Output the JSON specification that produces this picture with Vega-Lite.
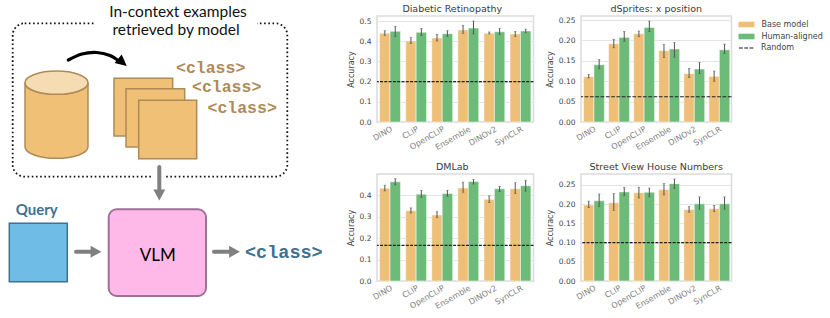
{
"$schema":"https://vega.github.io/schema/vega-lite/v6.json",
"padding":{"left":0,"top":2,"right":0,"bottom":0},
"background":"white",
"bounds":"flush",
"align":"each",
"columns":3,
"spacing":{"row":52,"column":47},
"datasets":{
"bars":[
{"panel":"dr","model":"DINO","kind":"Base model","acc":0.44,"lo":0.429,"hi":0.452},
{"panel":"dr","model":"DINO","kind":"Human-aligned","acc":0.449,"lo":0.423,"hi":0.474},
{"panel":"dr","model":"CLIP","kind":"Base model","acc":0.401,"lo":0.388,"hi":0.418},
{"panel":"dr","model":"CLIP","kind":"Human-aligned","acc":0.444,"lo":0.428,"hi":0.464},
{"panel":"dr","model":"OpenCLIP","kind":"Base model","acc":0.416,"lo":0.401,"hi":0.434},
{"panel":"dr","model":"OpenCLIP","kind":"Human-aligned","acc":0.4375,"lo":0.424,"hi":0.452},
{"panel":"dr","model":"Ensemble","kind":"Base model","acc":0.456,"lo":0.439,"hi":0.479},
{"panel":"dr","model":"Ensemble","kind":"Human-aligned","acc":0.465,"lo":0.436,"hi":0.5},
{"panel":"dr","model":"DINOv2","kind":"Base model","acc":0.439,"lo":0.436,"hi":0.446},
{"panel":"dr","model":"DINOv2","kind":"Human-aligned","acc":0.447,"lo":0.433,"hi":0.464},
{"panel":"dr","model":"SynCLR","kind":"Base model","acc":0.436,"lo":0.423,"hi":0.449},
{"panel":"dr","model":"SynCLR","kind":"Human-aligned","acc":0.451,"lo":0.442,"hi":0.46},
{"panel":"ds","model":"DINO","kind":"Base model","acc":0.111,"lo":0.108,"hi":0.117},
{"panel":"ds","model":"DINO","kind":"Human-aligned","acc":0.1405,"lo":0.13,"hi":0.153},
{"panel":"ds","model":"CLIP","kind":"Base model","acc":0.192,"lo":0.182,"hi":0.203},
{"panel":"ds","model":"CLIP","kind":"Human-aligned","acc":0.2075,"lo":0.198,"hi":0.222},
{"panel":"ds","model":"OpenCLIP","kind":"Base model","acc":0.2165,"lo":0.209,"hi":0.223},
{"panel":"ds","model":"OpenCLIP","kind":"Human-aligned","acc":0.232,"lo":0.222,"hi":0.2475},
{"panel":"ds","model":"Ensemble","kind":"Base model","acc":0.175,"lo":0.158,"hi":0.19},
{"panel":"ds","model":"Ensemble","kind":"Human-aligned","acc":0.179,"lo":0.159,"hi":0.195},
{"panel":"ds","model":"DINOv2","kind":"Base model","acc":0.1185,"lo":0.1087,"hi":0.1315},
{"panel":"ds","model":"DINOv2","kind":"Human-aligned","acc":0.13,"lo":0.119,"hi":0.146},
{"panel":"ds","model":"SynCLR","kind":"Base model","acc":0.112,"lo":0.1,"hi":0.125},
{"panel":"ds","model":"SynCLR","kind":"Human-aligned","acc":0.177,"lo":0.168,"hi":0.191},
{"panel":"dm","model":"DINO","kind":"Base model","acc":0.433,"lo":0.42,"hi":0.447},
{"panel":"dm","model":"DINO","kind":"Human-aligned","acc":0.4625,"lo":0.448,"hi":0.477},
{"panel":"dm","model":"CLIP","kind":"Base model","acc":0.328,"lo":0.317,"hi":0.341},
{"panel":"dm","model":"CLIP","kind":"Human-aligned","acc":0.405,"lo":0.389,"hi":0.423},
{"panel":"dm","model":"OpenCLIP","kind":"Base model","acc":0.308,"lo":0.295,"hi":0.323},
{"panel":"dm","model":"OpenCLIP","kind":"Human-aligned","acc":0.408,"lo":0.395,"hi":0.423},
{"panel":"dm","model":"Ensemble","kind":"Base model","acc":0.434,"lo":0.414,"hi":0.461},
{"panel":"dm","model":"Ensemble","kind":"Human-aligned","acc":0.464,"lo":0.452,"hi":0.473},
{"panel":"dm","model":"DINOv2","kind":"Base model","acc":0.381,"lo":0.366,"hi":0.397},
{"panel":"dm","model":"DINOv2","kind":"Human-aligned","acc":0.43,"lo":0.417,"hi":0.441},
{"panel":"dm","model":"SynCLR","kind":"Base model","acc":0.43,"lo":0.408,"hi":0.458},
{"panel":"dm","model":"SynCLR","kind":"Human-aligned","acc":0.444,"lo":0.419,"hi":0.47},
{"panel":"sv","model":"DINO","kind":"Base model","acc":0.198,"lo":0.191,"hi":0.208},
{"panel":"sv","model":"DINO","kind":"Human-aligned","acc":0.209,"lo":0.194,"hi":0.2266},
{"panel":"sv","model":"CLIP","kind":"Base model","acc":0.204,"lo":0.184,"hi":0.2274},
{"panel":"sv","model":"CLIP","kind":"Human-aligned","acc":0.232,"lo":0.222,"hi":0.244},
{"panel":"sv","model":"OpenCLIP","kind":"Base model","acc":0.23,"lo":0.216,"hi":0.244},
{"panel":"sv","model":"OpenCLIP","kind":"Human-aligned","acc":0.231,"lo":0.219,"hi":0.242},
{"panel":"sv","model":"Ensemble","kind":"Base model","acc":0.238,"lo":0.224,"hi":0.2535},
{"panel":"sv","model":"Ensemble","kind":"Human-aligned","acc":0.2535,"lo":0.241,"hi":0.2656},
{"panel":"sv","model":"DINOv2","kind":"Base model","acc":0.186,"lo":0.179,"hi":0.194},
{"panel":"sv","model":"DINOv2","kind":"Human-aligned","acc":0.201,"lo":0.187,"hi":0.219},
{"panel":"sv","model":"SynCLR","kind":"Base model","acc":0.188,"lo":0.181,"hi":0.197},
{"panel":"sv","model":"SynCLR","kind":"Human-aligned","acc":0.201,"lo":0.187,"hi":0.219}
],
"chance":[
{"panel":"dr","acc":0.2,"label":"Random"},
{"panel":"ds","acc":0.062,"label":"Random"},
{"panel":"dm","acc":0.166,"label":"Random"},
{"panel":"sv","acc":0.1,"label":"Random"}
]
},
"config":{
"font":"DejaVu Sans",
"view":{"stroke":"#dcdcdc","strokeWidth":1.5},
"title":{"fontSize":9.5,"fontWeight":"normal","color":"#3a3a3a","offset":3},
"axisX":{"domain":false,"ticks":false,"grid":false,"labelAngle":-30,"labelAlign":"right","labelBaseline":"top","labelFontSize":8,"labelColor":"#808080","labelPadding":3,"title":null,"labelOverlap":false},
"axisY":{"domain":false,"ticks":false,"grid":true,"gridColor":"#e4e4e4","gridWidth":1.2,"labelFontSize":7.5,"labelColor":"#444444","labelPadding":6,"labelOverlap":false,"titleFontSize":8,"titleFontWeight":"normal","titleColor":"#444444","titlePadding":4},
"legend":{"labelFontSize":8,"labelColor":"#444444","title":null}
},
"concat":[
{
"width":330,"height":106,"view":{"stroke":null},
"encoding":{
"x":{"field":"x","type":"quantitative","scale":{"domain":[0,330],"nice":false,"zero":false},"axis":null},
"y":{"field":"y","type":"quantitative","scale":{"domain":[122,16],"nice":false,"zero":false},"axis":null}
},
"layer":[
{"data":{"values":[{"x":12.7,"x2":287.3,"y":23.3,"y2":176.7}]},"mark":{"type":"rect","fill":null,"stroke":"#111111","strokeWidth":1.8,"strokeDash":[1.6,2.6],"cornerRadius":12},"encoding":{"x2":{"field":"x2"},"y2":{"field":"y2"}}},
{"data":{"values":[{"x":94,"x2":257,"y":18,"y2":29},{"x":152,"x2":165,"y":172,"y2":181}]},"mark":{"type":"rect","fill":"white"},"encoding":{"x2":{"field":"x2"},"y2":{"field":"y2"}}},
{"data":{"values":[{"x":56.5,"y":114.7}]},"mark":{"type":"point","filled":true,"opacity":1,"fill":"#EFC076","stroke":"#AE8A57","strokeWidth":1.5,"size":3969,"shape":"M-1,-1.016 L-1,1.016 A1,0.37 0 0 0 1,1.016 L1,-1.016 A1,0.37 0 0 1 -1,-1.016 Z"}},
{"data":{"values":[{"x":56.5,"y":82.7}]},"mark":{"type":"point","filled":true,"opacity":1,"fill":"#F6DCB2","stroke":"#AE8A57","strokeWidth":1.5,"size":3969,"shape":"M-1,0 A1,0.37 0 1 1 1,0 A1,0.37 0 1 1 -1,0 Z"}},
{"data":{"values":[{"x":114,"x2":172.7,"y":78.3,"y2":136,"o":1},{"x":126,"x2":184.7,"y":88.7,"y2":147,"o":2},{"x":138.7,"x2":196.7,"y":100.3,"y2":158.7,"o":3}]},"mark":{"type":"rect","fill":"#EFC076","stroke":"#AE8A57","strokeWidth":1.5},"encoding":{"x2":{"field":"x2"},"y2":{"field":"y2"},"order":{"field":"o"}}},
{"data":{"values":[{"x":68.3,"y":60,"o":1},{"x":82,"y":54,"o":2},{"x":96.7,"y":52.5,"o":3},{"x":110,"y":55.5,"o":4},{"x":120,"y":62,"o":5}]},"mark":{"type":"line","color":"black","strokeWidth":3.2,"interpolate":"cardinal","strokeCap":"round"},"encoding":{"order":{"field":"o"}}},
{"data":{"values":[{"x":122,"y":62}]},"mark":{"type":"point","filled":true,"opacity":1,"fill":"black","size":100,"angle":40,"shape":"M-1,-1.1 L1.25,0 L-1,1.1 Z"}},
{"data":{"values":[{"x":178,"y":12.3,"t":"In-context examples"},{"x":176,"y":30,"t":"retrieved by model"}]},"mark":{"type":"text","font":"Lato","fontSize":15.5,"color":"#111111","align":"center","baseline":"middle"},"encoding":{"text":{"field":"t"}}},
{"data":{"values":[{"x":176,"y":67.5,"t":"<class>"},{"x":192,"y":87,"t":"<class>"},{"x":207.5,"y":108,"t":"<class>"}]},"mark":{"type":"text","font":"Liberation Mono","fontWeight":"bold","fontSize":16.5,"color":"#AE8A57","align":"left","baseline":"middle"},"encoding":{"text":{"field":"t"}}}
]
},
{
"title":{"text":"Diabetic Retinopathy","dx":-3},"width":156.5,"height":106,
"transform":[{"filter":"datum.panel==='dr'"}],"data":{"name":"bars"},
"layer":[
{"mark":{"type":"bar","stroke":"white","strokeWidth":0.5,"opacity":1},"encoding":{
"x":{"field":"model","type":"nominal","sort":null,"scale":{"paddingInner":0.2,"paddingOuter":0.1}},
"xOffset":{"field":"kind","type":"nominal","sort":null},
"y":{"field":"acc","type":"quantitative","title":"Accuracy","scale":{"domain":[0,0.525],"nice":false},"axis":{"values":[0,0.1,0.2,0.3,0.4,0.5],"tickCount":6,"labelOverlap":false,"format":".1f"}},
"color":{"field":"kind","type":"nominal"}}},
{"mark":{"type":"rule","color":"#555555","strokeWidth":1},"encoding":{"x":{"field":"model","sort":null},"xOffset":{"field":"kind","sort":null},"y":{"field":"lo","type":"quantitative"},"y2":{"field":"hi"}}},
{"mark":{"type":"tick","color":"#555555","size":2.5,"thickness":0.7},"encoding":{"x":{"field":"model","sort":null},"xOffset":{"field":"kind","sort":null},"y":{"field":"lo","type":"quantitative"}}},
{"mark":{"type":"tick","color":"#555555","size":2.5,"thickness":0.7},"encoding":{"x":{"field":"model","sort":null},"xOffset":{"field":"kind","sort":null},"y":{"field":"hi","type":"quantitative"}}},
{"data":{"name":"chance"},"transform":[{"filter":"datum.panel==='dr'"}],"mark":{"type":"rule","color":"#222222","strokeWidth":1.1,"strokeDash":[3,1.3]},"encoding":{"y":{"field":"acc","type":"quantitative"}}}
]
},
{
"title":{"text":"dSprites: x position"},"width":150.5,"height":106,
"transform":[{"filter":"datum.panel==='ds'"}],"data":{"name":"bars"},
"layer":[
{"mark":{"type":"bar","stroke":"white","strokeWidth":0.5,"opacity":1},"encoding":{
"x":{"field":"model","type":"nominal","sort":null,"scale":{"paddingInner":0.2,"paddingOuter":0.1}},
"xOffset":{"field":"kind","type":"nominal","sort":null},
"y":{"field":"acc","type":"quantitative","title":"Accuracy","scale":{"domain":[0,0.26],"nice":false},"axis":{"values":[0,0.05,0.1,0.15,0.2,0.25],"tickCount":6,"labelOverlap":false,"format":".2f"}},
"color":{"field":"kind","type":"nominal","scale":{"domain":["Base model","Human-aligned"],"range":["#EEBF76","#6DBB79"]},"legend":{"orient":"right","offset":4.5,"padding":2.5,"symbolType":"M-1.33,-0.47 L1.33,-0.47 L1.33,0.47 L-1.33,0.47 Z","symbolSize":144,"symbolStrokeWidth":0,"symbolOpacity":1,"rowPadding":2,"labelOffset":9}}}},
{"mark":{"type":"rule","color":"#555555","strokeWidth":1},"encoding":{"x":{"field":"model","sort":null},"xOffset":{"field":"kind","sort":null},"y":{"field":"lo","type":"quantitative"},"y2":{"field":"hi"}}},
{"mark":{"type":"tick","color":"#555555","size":2.5,"thickness":0.7},"encoding":{"x":{"field":"model","sort":null},"xOffset":{"field":"kind","sort":null},"y":{"field":"lo","type":"quantitative"}}},
{"mark":{"type":"tick","color":"#555555","size":2.5,"thickness":0.7},"encoding":{"x":{"field":"model","sort":null},"xOffset":{"field":"kind","sort":null},"y":{"field":"hi","type":"quantitative"}}},
{"data":{"name":"chance"},"transform":[{"filter":"datum.panel==='ds'"}],"mark":{"type":"rule","color":"#222222","strokeWidth":1.1},"encoding":{"y":{"field":"acc","type":"quantitative"},"strokeDash":{"field":"label","type":"nominal","scale":{"domain":["Random"],"range":[[3.7,1.6]]},"legend":{"orient":"none","legendX":740,"legendY":25,"symbolType":"M-1.33,0 L1.33,0","symbolSize":144,"symbolStrokeColor":"#111111","symbolStrokeWidth":1.2,"labelOffset":7}}}}
]
},
{
"width":330,"height":107,"view":{"stroke":null},
"encoding":{
"x":{"field":"x","type":"quantitative","scale":{"domain":[0,330],"nice":false,"zero":false},"axis":null},
"y":{"field":"y","type":"quantitative","scale":{"domain":[281,174],"nice":false,"zero":false},"axis":null}
},
"layer":[
{"data":{"values":[{"x":159.3,"x2":159.3,"y":167,"y2":191},{"x":76,"x2":94,"y":251.7,"y2":251.7},{"x":214,"x2":231,"y":251.7,"y2":251.7}]},"mark":{"type":"rule","color":"#808080","strokeWidth":4,"strokeCap":"round"},"encoding":{"x2":{"field":"x2"},"y2":{"field":"y2"}}},
{"data":{"values":[{"x":159.3,"y":195}]},"mark":{"type":"point","filled":true,"opacity":1,"fill":"#808080","size":144,"shape":"M-1,-0.9 L1,-0.9 L0,0.9 Z"}},
{"data":{"values":[{"x":96,"y":251.7},{"x":234.5,"y":251.7}]},"mark":{"type":"point","filled":true,"opacity":1,"fill":"#808080","size":144,"shape":"M-0.9,-1 L0.9,0 L-0.9,1 Z"}},
{"data":{"values":[{"x":9.3,"x2":67.3,"y":223.3,"y2":281.7}]},"mark":{"type":"rect","fill":"#6FBDE6","stroke":"#3F7190","strokeWidth":1.5},"encoding":{"x2":{"field":"x2"},"y2":{"field":"y2"}}},
{"data":{"values":[{"x":108.7,"x2":206,"y":209.3,"y2":296}]},"mark":{"type":"rect","fill":"#FFB9E8","stroke":"#A0709A","strokeWidth":2,"cornerRadius":8},"encoding":{"x2":{"field":"x2"},"y2":{"field":"y2"}}},
{"data":{"values":[{"x":245,"y":251.7,"t":"<class>"}]},"mark":{"type":"text","font":"Liberation Mono","fontWeight":"bold","fontSize":18.5,"color":"#3F7190","align":"left","baseline":"middle"},"encoding":{"text":{"field":"t"}}},
{"data":{"values":[{"x":36.7,"y":210,"t":"Query"}]},"mark":{"type":"text","font":"Lato","fontWeight":"bold","fontSize":15,"color":"#3F7190","align":"center","baseline":"middle"},"encoding":{"text":{"field":"t"}}},
{"data":{"values":[{"x":157.7,"y":256,"t":"VLM"}]},"mark":{"type":"text","font":"Lato","fontSize":17,"color":"black","align":"center","baseline":"middle"},"encoding":{"text":{"field":"t"}}}
]
},
{
"title":{"text":"DMLab","dx":-3},"width":156.5,"height":107,
"transform":[{"filter":"datum.panel==='dm'"}],"data":{"name":"bars"},
"layer":[
{"mark":{"type":"bar","stroke":"white","strokeWidth":0.5,"opacity":1},"encoding":{
"x":{"field":"model","type":"nominal","sort":null,"scale":{"paddingInner":0.2,"paddingOuter":0.1}},
"xOffset":{"field":"kind","type":"nominal","sort":null},
"y":{"field":"acc","type":"quantitative","title":"Accuracy","scale":{"domain":[0,0.499],"nice":false},"axis":{"values":[0,0.1,0.2,0.3,0.4],"tickCount":5,"labelOverlap":false,"format":".1f"}},
"color":{"field":"kind","type":"nominal"}}},
{"mark":{"type":"rule","color":"#555555","strokeWidth":1},"encoding":{"x":{"field":"model","sort":null},"xOffset":{"field":"kind","sort":null},"y":{"field":"lo","type":"quantitative"},"y2":{"field":"hi"}}},
{"mark":{"type":"tick","color":"#555555","size":2.5,"thickness":0.7},"encoding":{"x":{"field":"model","sort":null},"xOffset":{"field":"kind","sort":null},"y":{"field":"lo","type":"quantitative"}}},
{"mark":{"type":"tick","color":"#555555","size":2.5,"thickness":0.7},"encoding":{"x":{"field":"model","sort":null},"xOffset":{"field":"kind","sort":null},"y":{"field":"hi","type":"quantitative"}}},
{"data":{"name":"chance"},"transform":[{"filter":"datum.panel==='dm'"}],"mark":{"type":"rule","color":"#222222","strokeWidth":1.1,"strokeDash":[3,1.3]},"encoding":{"y":{"field":"acc","type":"quantitative"}}}
]
},
{
"title":{"text":"Street View House Numbers"},"width":150.5,"height":107,
"transform":[{"filter":"datum.panel==='sv'"}],"data":{"name":"bars"},
"layer":[
{"mark":{"type":"bar","stroke":"white","strokeWidth":0.5,"opacity":1},"encoding":{
"x":{"field":"model","type":"nominal","sort":null,"scale":{"paddingInner":0.2,"paddingOuter":0.1}},
"xOffset":{"field":"kind","type":"nominal","sort":null},
"y":{"field":"acc","type":"quantitative","title":"Accuracy","scale":{"domain":[0,0.2786],"nice":false},"axis":{"values":[0,0.05,0.1,0.15,0.2,0.25],"tickCount":6,"labelOverlap":false,"format":".2f"}},
"color":{"field":"kind","type":"nominal"}}},
{"mark":{"type":"rule","color":"#555555","strokeWidth":1},"encoding":{"x":{"field":"model","sort":null},"xOffset":{"field":"kind","sort":null},"y":{"field":"lo","type":"quantitative"},"y2":{"field":"hi"}}},
{"mark":{"type":"tick","color":"#555555","size":2.5,"thickness":0.7},"encoding":{"x":{"field":"model","sort":null},"xOffset":{"field":"kind","sort":null},"y":{"field":"lo","type":"quantitative"}}},
{"mark":{"type":"tick","color":"#555555","size":2.5,"thickness":0.7},"encoding":{"x":{"field":"model","sort":null},"xOffset":{"field":"kind","sort":null},"y":{"field":"hi","type":"quantitative"}}},
{"data":{"name":"chance"},"transform":[{"filter":"datum.panel==='sv'"}],"mark":{"type":"rule","color":"#222222","strokeWidth":1.1,"strokeDash":[3,1.3]},"encoding":{"y":{"field":"acc","type":"quantitative"}}}
]
}
]
}
